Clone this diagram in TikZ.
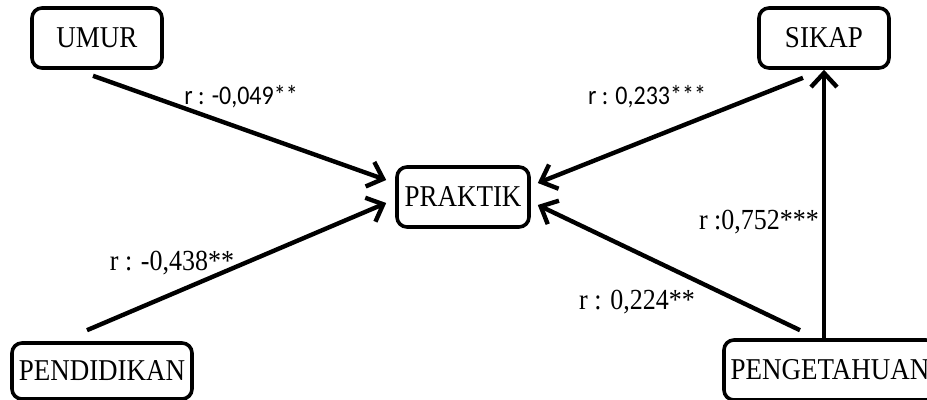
\documentclass[tikz,border=0pt]{standalone}
\usepackage{fontspec}
\setmainfont{Liberation Serif}
\newfontfamily\labelsans{Carlito}
\usetikzlibrary{arrows.meta, calc}
\newcommand{\tallText}[1]{\scalebox{1}[1.12]{#1}}
\tikzset{
  box/.style={rectangle,draw,line width=1.8pt,rounded corners=5pt,align=center,inner sep=0pt,font=\fontsize{13.5}{15}\selectfont},
  link/.style={line width=2.2pt,-{Straight Barb[length=7pt,width=13pt,line width=2.2pt]}},
  coef/.style={inner sep=0pt,font=\fontsize{13}{15}\selectfont},
  coefsans/.style={inner sep=0pt,font=\labelsans\fontsize{12}{14}\selectfont}
}

\begin{document}
\begin{tikzpicture}[x=0.5pt,y=-0.5pt]
\useasboundingbox (0,0) rectangle (927,400);
\node[box, minimum width=65pt, minimum height=30pt] (umur) at (97,38) {\tallText{UMUR}};
\node[box, minimum width=65pt, minimum height=30pt] (sikap) at (824,38) {\tallText{SIKAP}};
\node[box, minimum width=66pt, minimum height=30pt] (praktik) at (463,197) {\tallText{PRAKTIK}};
\node[box, minimum width=90pt, minimum height=28pt] (pendidikan) at (102,371) {\tallText{PENDIDIKAN}};
\node[box, minimum width=106pt, minimum height=30pt] (pengetahuan) at (830,370) {\tallText{PENGETAHUAN}};
\draw[link] ($(umur.south)+(-4,6)$) -- ($(praktik.west)+(-9,-17)$);
\draw[link] ($(pendidikan.north)+(-15,-11)$) -- ($(praktik.west)+(-9,6)$);
\draw[link] ($(sikap.south)+(-21,8)$) -- ($(praktik.east)+(7,-14)$);
\draw[link] ($(pengetahuan.north)+(-30,-8)$) -- ($(praktik.east)+(7,8)$);
\draw[link] (pengetahuan.north -| sikap.south) -- (sikap.south);
\node[coefsans] (rumur) at (241,97) {\tallText{r : -0,049**}};
\node[coefsans] (rsikap) at (647,97) {\tallText{r : 0,233***}};
\node[coef] (rpendidikan) at (172,263) {\tallText{r : -0,438**}};
\node[coef] (rsp) at (759,222) {\tallText{r :0,752***}};
\node[coef] (rpp) at (637,302) {\tallText{r : 0,224**}};
\end{tikzpicture}
\end{document}
